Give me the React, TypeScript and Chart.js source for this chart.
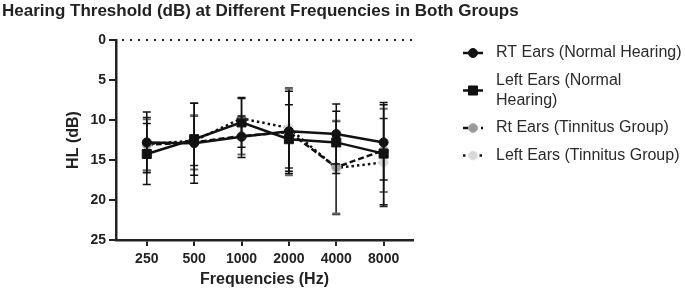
import React, { useEffect, useRef } from 'react';
import { Chart, registerables } from 'chart.js';

Chart.register(...registerables);

const chartTitle = 'Hearing Threshold (dB) at Different Frequencies in Both Groups';
const frequencies = ['250', '500', '1000', '2000', '4000', '8000'];
const yTicks = [0, 5, 10, 15, 20, 25];

const legendLines = [
  ['RT Ears (Normal Hearing)'],
  ['Left Ears (Normal', 'Hearing)'],
  ['Rt Ears (Tinnitus Group)'],
  ['Left Ears (Tinnitus Group)'],
];

const rtNormal = [12.8, 12.9, 12.1, 11.4, 11.75, 12.8];
const rtNormalSD = [3.8, 5.0, 2.6, 5.0, 3.75, 4.7];
const leftNormal = [14.25, 12.4, 10.3, 12.4, 12.8, 14.2];
const leftNormalSD = [3.8, 4.5, 3.1, 4.3, 3.9, 6.4];
const rtTinnitus = [13.1, 12.8, 12.0, 11.5, 15.9, 13.8];
const rtTinnitusSD = [3.2, 3.4, 2.3, 5.4, 5.8, 5.2];
const leftTinnitus = [13.0, 12.6, 9.8, 11.0, 16.0, 15.3];
const leftTinnitusSD = [3.3, 3.1, 2.5, 5.0, 5.8, 5.5];

const FONT = '"Liberation Sans", Arial, Helvetica, sans-serif';
const INK = '#222';

const toPoints = (arr: number[]) => arr.map((v, i) => ({ x: i, y: v }));

const drawMarker = (ctx: CanvasRenderingContext2D, ds: any, x: number, y: number) => {
  ctx.save();
  ctx.setLineDash([]);
  ctx.fillStyle = ds.pointBackgroundColor;
  ctx.strokeStyle = ds.pointBorderColor;
  ctx.lineWidth = ds.pointBorderWidth;
  ctx.beginPath();
  if (ds.pointStyle === 'rect') {
    const s = Math.SQRT1_2 * ds.pointRadius;
    ctx.rect(x - s, y - s, 2 * s, 2 * s);
  } else {
    ctx.arc(x, y, ds.pointRadius, 0, Math.PI * 2);
  }
  ctx.fill();
  if (ds.pointBorderWidth > 0) ctx.stroke();
  ctx.restore();
};

const decorPlugin = {
  id: 'decor',
  beforeDatasetsDraw(chart: any) {
    const { ctx, chartArea, scales } = chart;
    const y0 = scales.y.getPixelForValue(0);
    ctx.save();
    ctx.strokeStyle = INK;
    ctx.lineWidth = 2;
    ctx.setLineDash([2, 6]);
    ctx.beginPath();
    ctx.moveTo(chartArea.left + 6, y0);
    ctx.lineTo(chartArea.right, y0);
    ctx.stroke();
    ctx.restore();
  },
  afterDatasetsDraw(chart: any) {
    const { ctx, scales } = chart;
    const ys = scales.y;
    const dsets = chart.data.datasets;
    for (let i = dsets.length - 1; i >= 0; i--) {
      const ds = dsets[i];
      const meta = chart.getDatasetMeta(i);
      meta.data.forEach((pt: any, j: number) => {
        const v = ds.data[j].y;
        const sd = ds.sd[j];
        const yt = ys.getPixelForValue(v - sd);
        const yb = ys.getPixelForValue(v + sd);
        const x = pt.x;
        ctx.save();
        ctx.setLineDash([]);
        ctx.strokeStyle = ds.barColor;
        ctx.lineWidth = 1.5;
        ctx.beginPath();
        ctx.moveTo(x, yt);
        ctx.lineTo(x, yb);
        ctx.stroke();
        ctx.strokeStyle = ds.capColor;
        ctx.lineWidth = ds.capWidth;
        ctx.beginPath();
        ctx.moveTo(x - 4, yt);
        ctx.lineTo(x + 4, yt);
        ctx.moveTo(x - 4, yb);
        ctx.lineTo(x + 4, yb);
        ctx.stroke();
        ctx.restore();
      });
    }
  },
  afterDraw(chart: any) {
    const { ctx } = chart;
    ctx.save();
    ctx.fillStyle = INK;
    ctx.font = `bold 17px ${FONT}`;
    ctx.textBaseline = 'middle';
    ctx.textAlign = 'left';
    ctx.fillText(chartTitle, 2, 11);

    // legend
    const lineH = 20;
    const gap = 7.5;
    let top = 43;
    const sx = 473;
    ctx.font = `16px ${FONT}`;
    chart.data.datasets.forEach((ds: any, i: number) => {
      const lines = legendLines[i];
      const h = lines.length * lineH;
      const cy = top + h / 2;
      ctx.save();
      ctx.strokeStyle = ds.borderColor;
      ctx.lineWidth = 2.5;
      ctx.setLineDash(ds.borderDash || []);
      ctx.beginPath();
      ctx.moveTo(sx - 10, cy);
      ctx.lineTo(sx + 10, cy);
      ctx.stroke();
      ctx.restore();
      drawMarker(ctx, ds, sx, cy);
      ctx.fillStyle = '#2a2a2a';
      ctx.textAlign = 'left';
      ctx.textBaseline = 'middle';
      lines.forEach((t, k) => {
        ctx.fillText(t, 496, top + lineH / 2 + k * lineH);
      });
      top += h + gap;
    });
    ctx.restore();
  },
};

export default function App() {
  const ref = useRef<HTMLCanvasElement | null>(null);
  useEffect(() => {
    if (!ref.current) return;
    Chart.defaults.font.family = FONT;
    Chart.defaults.color = INK;
    const common = { borderColor: '#111', borderWidth: 2.5, fill: false, tension: 0, clip: false };
    const chart = new Chart(ref.current, {
      type: 'line',
      data: {
        datasets: [
          {
            ...common,
            label: legendLines[0].join(' '),
            data: toPoints(rtNormal),
            sd: rtNormalSD,
            pointStyle: 'circle',
            pointRadius: 4.5,
            pointBackgroundColor: '#111',
            pointBorderColor: '#111',
            pointBorderWidth: 1,
            barColor: '#111',
            capColor: '#111',
            capWidth: 1.5,
          },
          {
            ...common,
            label: legendLines[1].join(' '),
            data: toPoints(leftNormal),
            sd: leftNormalSD,
            pointStyle: 'rect',
            pointRadius: 6.4,
            pointBackgroundColor: '#111',
            pointBorderColor: '#111',
            pointBorderWidth: 1,
            barColor: '#111',
            capColor: '#111',
            capWidth: 1.5,
          },
          {
            ...common,
            label: legendLines[2].join(' '),
            data: toPoints(rtTinnitus),
            sd: rtTinnitusSD,
            borderDash: [6, 3],
            pointStyle: 'circle',
            pointRadius: 4.5,
            pointBackgroundColor: '#9a9a9a',
            pointBorderColor: '#b5b5b5',
            pointBorderWidth: 1,
            barColor: '#333',
            capColor: '#666',
            capWidth: 2,
          },
          {
            ...common,
            label: legendLines[3].join(' '),
            data: toPoints(leftTinnitus),
            sd: leftTinnitusSD,
            borderDash: [2.5, 3],
            pointStyle: 'circle',
            pointRadius: 4.5,
            pointBackgroundColor: '#d9d9d9',
            pointBorderColor: '#e6e6e6',
            pointBorderWidth: 1,
            barColor: '#222',
            capColor: '#222',
            capWidth: 1.5,
          },
        ] as any,
      },
      options: {
        animation: false,
        responsive: false,
        devicePixelRatio: 1,
        layout: { padding: { top: 40, right: 272, left: 0, bottom: 0 } },
        plugins: {
          legend: { display: false },
          tooltip: { enabled: false },
          title: { display: false },
        },
        scales: {
          x: {
            type: 'linear',
            min: -0.65,
            max: 5.62,
            afterBuildTicks: (s: any) => {
              s.ticks = frequencies.map((_, i) => ({ value: i }));
            },
            afterFit: (s: any) => {
              s.height = 52;
            },
            ticks: {
              callback: (v: any) => frequencies[Math.round(Number(v))],
              font: { size: 14, weight: 'bold' },
              color: INK,
              padding: 5,
              autoSkip: false,
              maxRotation: 0,
            },
            grid: { drawOnChartArea: false, drawTicks: true, tickLength: 6, color: INK, lineWidth: 2 },
            border: { color: INK, width: 2.5 },
            title: {
              display: true,
              text: 'Frequencies (Hz)',
              font: { size: 16, weight: 'bold' },
              color: INK,
              padding: { top: 0, bottom: 2.4 },
            },
          },
          y: {
            type: 'linear',
            reverse: true,
            min: 0,
            max: 25,
            afterBuildTicks: (s: any) => {
              s.ticks = yTicks.map((v) => ({ value: v }));
            },
            afterFit: (s: any) => {
              s.width = 116;
            },
            ticks: {
              font: { size: 14, weight: 'bold' },
              color: INK,
              padding: 3,
            },
            grid: { drawOnChartArea: false, drawTicks: true, tickLength: 7, color: INK, lineWidth: 2 },
            border: { color: INK, width: 2.5 },
            title: {
              display: true,
              text: 'HL (dB)',
              font: { size: 16, weight: 'bold' },
              color: INK,
              padding: { top: 64, bottom: 0 },
            },
          },
        },
      } as any,
      plugins: [decorPlugin],
    });
    return () => chart.destroy();
  }, []);
  return (
    <div style={{ position: 'absolute', left: 0, top: 0, width: 685, height: 292, background: '#fff' }}>
      <canvas ref={ref} width={685} height={292} style={{ display: 'block' }} />
    </div>
  );
}
